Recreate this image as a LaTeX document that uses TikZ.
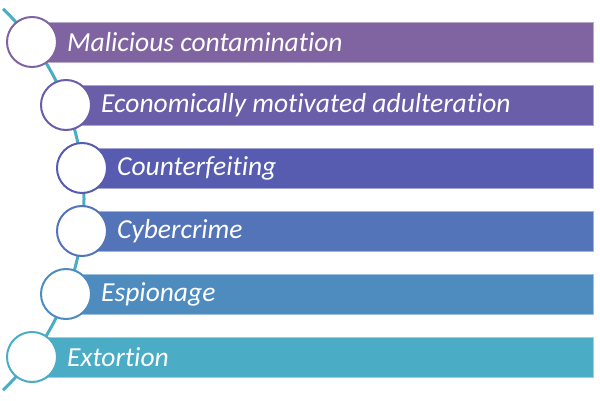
\documentclass[tikz,border=0pt]{standalone}
\usepackage{fontspec}
\setmainfont[Ligatures=NoCommon]{Carlito}
\definecolor{c1}{RGB}{128,100,162}
\definecolor{c2}{RGB}{106,94,168}
\definecolor{c3}{RGB}{88,92,176}
\definecolor{c4}{RGB}{84,116,186}
\definecolor{c5}{RGB}{78,140,192}
\definecolor{c6}{RGB}{75,172,198}
\tikzset{
  bar/.style={fill=#1, draw=#1!55!white, line width=0.8pt, minimum height=40pt, inner sep=0pt, anchor=west},
  dot/.style={circle, fill=white, draw=#1, line width=2pt, minimum size=50pt, inner sep=0pt},
  lbl/.style={anchor=west, text=white, font=\fontsize{27.5}{30}\selectfont\itshape, inner sep=0pt},
  spine/.style={draw=c6, line width=3pt}
}
\begin{document}
\begin{tikzpicture}[x=1pt,y=1pt]
\useasboundingbox (0,0) rectangle (600,400);
\coordinate (arcc) at (-181,200.5);
\draw[spine] (arcc) ++(46:265) arc[start angle=46, end angle=-46, radius=265];
\foreach \i/\x/\y/\c/\t in {1/32/358/c1/Malicious contamination,
  2/66/295/c2/Economically motivated adulteration,
  3/82/232/c3/Counterfeiting,
  4/82/169/c4/Cybercrime,
  5/66/106/c5/Espionage,
  6/32/43/c6/Extortion}{
  \pgfmathsetmacro{\w}{593-\x}
  \node[bar=\c, minimum width=\w pt] (b\i) at (\x,\y) {};
  \node[dot=\c] (d\i) at (\x,\y) {};
  \node[lbl] (t\i) at ([xshift=35pt]d\i.center) {\t};
}
\end{tikzpicture}
\end{document}
